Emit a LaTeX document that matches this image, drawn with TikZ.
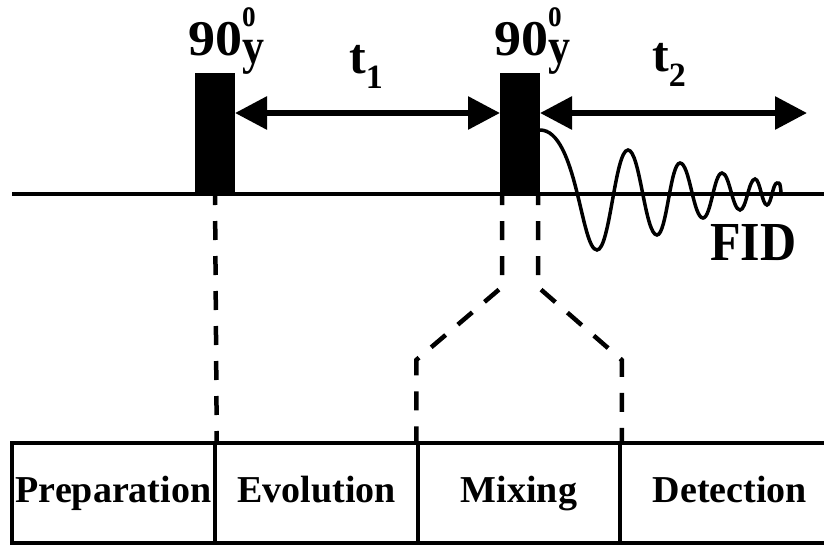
\documentclass[tikz,border=0pt]{standalone}
\usepackage{fontspec}
\usepackage{graphicx}
\setmainfont{Liberation Serif}
\usetikzlibrary{arrows.meta}

\begin{document}
\begin{tikzpicture}[x=1pt,y=-1pt,
  pulse/.style={fill=black, draw=none, minimum width=40pt, minimum height=121pt,
                inner sep=0pt, outer sep=0pt},
  axisline/.style={line width=3.5pt},
  span/.style={line width=6pt,
               {Triangle[length=32pt,width=32pt]}-{Triangle[length=32pt,width=32pt]}},
  guide/.style={line width=4.5pt, dash pattern=on 19pt off 16pt},
  fidline/.style={line width=3.5pt, line cap=round},
  bigtxt/.style={font=\fontsize{50}{50}\selectfont\bfseries, inner sep=0pt, anchor=base west},
  cellbox/.style={draw, line width=3.5pt, minimum height=100pt, inner sep=0pt,
                  text height=26pt, text depth=8pt,
                  font=\fontsize{38}{38}\selectfont\bfseries},
]
\useasboundingbox (0,0) rectangle (824,544);

% time axis
\coordinate (axL) at (12,194);
\coordinate (axR) at (830,194);
\draw[axisline] (axL) -- (axR);

% the two 90-degree pulses
\node[pulse] (p1) at (215,133.5) {};
\node[pulse] (p2) at (520,133.5) {};

% pulse labels: 90 with a raised o and a lowered y
\newcommand{\pulselabel}{\scalebox{1.08}[1]{90}\rlap{\raisebox{29pt}{\fontsize{40}{40}\selectfont\scalebox{0.68}[1]{o}}}\raisebox{-8pt}{\fontsize{44}{44}\selectfont\scalebox{1}[1.15]{y}}}
\node[bigtxt] (lab1) at (188,55) {\pulselabel};
\node[bigtxt] (lab2) at (494,55) {\pulselabel};

% evolution and detection periods
\coordinate (arrowrow) at (0,113);
\coordinate (t2end) at (807,113);
\draw[span] (p1.east |- arrowrow) -- (p2.west |- arrowrow);
\draw[span] (p2.east |- arrowrow) -- (t2end);
\node[bigtxt] (t1lab) at (349,73) {t\raisebox{-15pt}{\fontsize{34}{34}\selectfont 1}};
\node[bigtxt] (t2lab) at (652,71) {t\raisebox{-15pt}{\fontsize{34}{34}\selectfont 2}};

% free induction decay
\draw[fidline] (540,130)
  .. controls (577,130) and (581,250) .. (597,250)
  .. controls (610,250) and (615,150) .. (628,150)
  .. controls (640,150) and (645,235) .. (657,235)
  .. controls (666.7,235) and (670.3,163) .. (680,163)
  .. controls (689.7,163) and (693.3,218) .. (703,218)
  .. controls (711,218) and (714,173) .. (722,173)
  .. controls (729.6,173) and (732.4,210) .. (740,210)
  .. controls (746.3,210) and (748.7,179) .. (755,179)
  .. controls (760,179) and (762,205) .. (767,205)
  .. controls (771.2,205) and (772.8,183) .. (777,183)
  .. controls (780,183) .. (781,192);
\node[bigtxt] (fidlab) at (710,260) {\scalebox{1}[1.1]{FID}};

% stages of the experiment
\node[cellbox, minimum width=203pt] (prep) at (113.5,493) {Preparation};
\node[cellbox, minimum width=203pt] (evol) at (316.5,493) {Evolution};
\node[cellbox, minimum width=202pt] (mix)  at (519,493) {Mixing};
\node[cellbox, minimum width=220pt] (det)  at (730,493) {Detection};

% guides from the pulses down to the stage boundaries
\coordinate (bend) at (0,287);
\coordinate (splay) at (0,360);
\draw[guide, dash phase=8pt] (p1.south) -- (prep.north east);
\draw[guide, dash phase=8pt] ([xshift=2pt]p2.south west) -- ([xshift=2pt]p2.south west |- bend)
  -- (mix.north west |- splay) -- (mix.north west);
\draw[guide, dash phase=8pt] ([xshift=-2pt]p2.south east) -- ([xshift=-2pt]p2.south east |- bend)
  -- (mix.north east |- splay) -- (mix.north east);
\end{tikzpicture}
\end{document}
